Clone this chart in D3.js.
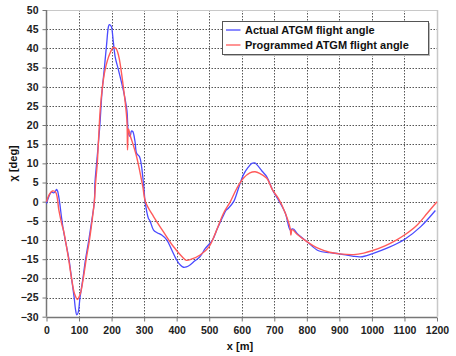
<!DOCTYPE html>
<html>
<head>
<meta charset="utf-8">
<script src="https://cdn.jsdelivr.net/npm/d3@7"></script>
<style>
  html, body { margin: 0; padding: 0; background: #fff; }
  svg { display: block; }
  text { font-family: "Liberation Sans", Arial, sans-serif; }
</style>
</head>
<body>
<script>
// Flight angle chi [deg] versus range x [m]
const actualX = [0, 8, 15, 22, 28, 31, 34, 40, 46, 52, 60, 69, 77, 85, 89, 93, 97, 103, 112, 120, 130, 139, 147, 149, 154, 164, 170, 178, 185, 190, 193, 197, 200, 205, 211, 221, 236, 247, 252, 257, 261, 265, 272, 277, 286, 298, 303, 313, 318, 329, 340, 354, 370, 385, 400, 412, 421, 430, 441, 455, 472, 488, 510, 525, 544, 552, 559, 575, 590, 605, 620, 631, 640, 647, 662, 677, 695, 713, 734, 749, 755, 760, 770, 800, 836, 870, 900, 940, 965, 1000, 1050, 1101, 1150, 1195];
const actualY = [-0.5, 1.5, 2.5, 2.3, 2.8, 3.2, 2.8, 0, -4, -7.5, -11, -15, -20, -25, -28, -29.5, -29, -25, -20, -15, -10, -5, 0, 5, 10, 20, 28, 35, 41.3, 45.5, 46.2, 46, 45.5, 42, 37.8, 34.4, 29.1, 23.9, 17.8, 17, 18.4, 18.3, 15.7, 12.6, 11.7, 4.8, 0, -4.3, -5, -7.4, -8.1, -8.7, -10, -12.6, -15.2, -16.6, -17.1, -17, -16.5, -15.5, -14.3, -12.2, -10, -7, -3.5, -2.2, -1.7, 0, 3.5, 7, 9, 10, 10.1, 9.6, 8, 6.5, 3, 0.4, -3, -7.4, -7.1, -7.2, -8.3, -10.4, -12.8, -13.3, -13.6, -14.2, -14.4, -13.6, -12, -9.8, -6.5, -2.3];

const programmedX = [0, 8, 18, 28, 38, 46, 49, 51, 58, 68, 77, 86, 95, 104, 113, 122, 132, 140, 147, 151, 156, 165, 172, 180, 195, 205, 213, 221, 236, 247, 249, 252, 258, 262, 277, 296, 304, 329, 359, 390, 416, 430, 445, 472, 500, 520, 544, 565, 585, 605, 625, 641, 655, 677, 695, 713, 734, 749, 751, 755, 770, 800, 836, 870, 900, 944, 975, 1000, 1040, 1075, 1100, 1140, 1170, 1200];
const programmedY = [0, 1.8, 2.8, 2.5, -2.2, -5.5, -6.5, -7, -10, -15, -20, -24, -25.5, -24, -20, -15, -10, -5, 0, 5, 10, 23.9, 30, 34.4, 38.7, 40.2, 40, 38.3, 30, 21.3, 13.5, 19, 17, 16, 11.7, 3.9, 0, -3.9, -7.8, -11.7, -14.3, -15.3, -15, -13.9, -11.7, -8, -3, 0, 3.5, 6.1, 7.5, 7.8, 7.4, 6.1, 3, 0.8, -3, -7, -8.7, -7.3, -8.5, -10.4, -12.2, -13.2, -13.6, -13.8, -13.4, -12.8, -11.5, -10, -8.7, -6, -3, 0];

const xTicks = [0, 100, 200, 300, 400, 500, 600, 700, 800, 900, 1000, 1100, 1200];
const yTicks = [-30, -25, -20, -15, -10, -5, 0, 5, 10, 15, 20, 25, 30, 35, 40, 45, 50];
const seriesNames = ["Actual ATGM flight angle", "Programmed ATGM flight angle"];
const seriesColors = ["#4a4aff", "#ff5a5a"];

const W = 456, H = 356;
const plotLeft = 46.5, plotRight = 437, plotTop = 10, plotBottom = 316.7;

const svg = d3.select("body").append("svg").attr("width", W).attr("height", H);

const x = d3.scaleLinear().domain([0, 1200]).range([plotLeft, plotRight]);
const y = d3.scaleLinear().domain([-30, 50]).range([plotBottom, plotTop]);

// dotted grid
const grid = svg.append("g").attr("stroke", "#555").attr("stroke-width", 1).attr("stroke-dasharray", "1.5,1.5");
grid.selectAll("line.v").data(xTicks.filter(d => d > 0 && d < 1200)).join("line")
  .attr("x1", d => Math.round(x(d)) + 0.5).attr("x2", d => Math.round(x(d)) + 0.5)
  .attr("y1", plotTop).attr("y2", plotBottom);
grid.selectAll("line.h").data(yTicks.filter(d => d > -30 && d < 50)).join("line")
  .attr("x1", plotLeft).attr("x2", plotRight)
  .attr("y1", d => Math.round(y(d)) + 0.5).attr("y2", d => Math.round(y(d)) + 0.5);

// light frame on top and right
svg.append("line").attr("x1", plotLeft).attr("x2", plotRight).attr("y1", plotTop + 0.5).attr("y2", plotTop + 0.5)
  .attr("stroke", "#c8c8c8").attr("stroke-width", 1);
svg.append("line").attr("x1", plotRight + 0.5).attr("x2", plotRight + 0.5).attr("y1", plotTop).attr("y2", plotBottom)
  .attr("stroke", "#c8c8c8").attr("stroke-width", 1.5);

// axes
const xAxis = d3.axisBottom(x).tickValues(xTicks).tickSize(4).tickPadding(5).tickFormat(d3.format("d"));
const yAxis = d3.axisLeft(y).tickValues(yTicks).tickSize(4).tickPadding(4).tickFormat(d3.format("d"));

const gx = svg.append("g").attr("transform", `translate(0,${Math.round(plotBottom) + 0.5})`).call(xAxis);
const gy = svg.append("g").attr("transform", `translate(${Math.round(plotLeft) - 0.5},0)`).call(yAxis);
[gx, gy].forEach(g => {
  g.select(".domain").attr("stroke", "#777").attr("stroke-width", 1.5);
  g.selectAll(".tick line").attr("stroke", "#777");
  g.selectAll(".tick text").attr("fill", "#222").attr("font-size", 10.5).attr("font-weight", "bold")
    .attr("font-family", "'Liberation Sans', Arial, sans-serif");
});
gx.select(".domain").attr("d", `M${plotLeft},0H${plotRight}`);
gy.select(".domain").attr("d", `M0,${plotTop}V${plotBottom}`);

// axis titles
svg.append("text").attr("x", 240).attr("y", 350).attr("text-anchor", "middle")
  .attr("font-size", 11).attr("font-weight", "bold").attr("fill", "#111").text("x [m]");
svg.append("text").attr("transform", `translate(17,${(plotTop + plotBottom) / 2}) rotate(-90)`)
  .attr("text-anchor", "middle").attr("font-size", 11).attr("font-weight", "bold").attr("fill", "#111")
  .text("χ [deg]");

// curves
const line = d3.line().x(d => x(d[0])).y(d => y(d[1])).curve(d3.curveCatmullRom.alpha(0.5));
const actual = actualX.map((v, i) => [v, actualY[i]]);
const programmed = programmedX.map((v, i) => [v, programmedY[i]]);

const plot = svg.append("g");
plot.append("path").datum(actual).attr("d", line).attr("fill", "none")
  .attr("stroke", seriesColors[0]).attr("stroke-width", 1.3).attr("stroke-linejoin", "round");
plot.append("path").datum(programmed).attr("d", line).attr("fill", "none")
  .attr("stroke", seriesColors[1]).attr("stroke-width", 1.4).attr("stroke-linejoin", "round");

// legend
const lg = svg.append("g").attr("transform", "translate(222.5,21.5)");
lg.append("rect").attr("x", 1.5).attr("y", 1.5).attr("width", 206).attr("height", 33).attr("fill", "#bbb");
lg.append("rect").attr("width", 206).attr("height", 33).attr("fill", "#fff").attr("stroke", "#555").attr("stroke-width", 1);
seriesNames.forEach((name, i) => {
  const yy = 8.5 + i * 15;
  lg.append("line").attr("x1", 3.5).attr("x2", 18).attr("y1", yy).attr("y2", yy)
    .attr("stroke", seriesColors[i]).attr("stroke-width", 1.3);
  lg.append("text").attr("x", 22.5).attr("y", yy + 4).attr("font-size", 11).attr("font-weight", "bold")
    .attr("fill", "#111").text(name);
});
</script>
</body>
</html>
